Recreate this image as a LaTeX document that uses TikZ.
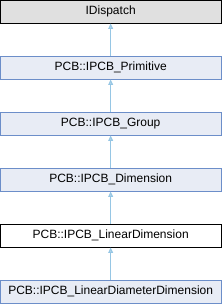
\documentclass[tikz,border=0pt]{standalone}
\usepackage{fontspec}
\setmainfont{Liberation Sans}
\definecolor{DOXYgrayfill}{RGB}{224, 224, 224}
\definecolor{DOXYbluefill}{RGB}{232, 236, 245}
\definecolor{DOXYblueline}{RGB}{108, 142, 201}
\definecolor{DOXYedge}{RGB}{150, 198, 228}
\usetikzlibrary{arrows.meta, positioning}

\begin{document}
\begin{tikzpicture}[
                box/.style={rectangle,
                draw=DOXYblueline,
                fill=DOXYbluefill,
                line width=0.75pt,
                minimum width=165.75pt,
                minimum height=17.25pt,
                inner sep=0pt,
                font=\fontsize{9}{11}\selectfont,
                align=center},
                arr/.style={-{Triangle[length=4pt, width=3.6pt, fill=DOXYedge!70]},
                            DOXYedge, line width=0.75pt},
                node distance=24pt]
                \useasboundingbox (0,0) rectangle (166.5pt,-228pt);
                \node[box, fill=DOXYgrayfill, draw=black] (idisp)
                    at (83pt,-8.625pt) {IDispatch};
                \node[box, below=of idisp] (prim) {PCB::IPCB\_Primitive};
                \node[box, below=of prim] (group) {PCB::IPCB\_Group};
                \node[box, below=of group] (dim) {PCB::IPCB\_Dimension};
                \node[box, below=of dim, fill=white, draw=black] (lindim)
                    {PCB::IPCB\_LinearDimension};
                \node[box, below=of lindim] (lindiam)
                    {PCB::IPCB\_LinearDiameterDimension};
                \draw[arr] (prim)--(idisp);
                \draw[arr] (group)--(prim);
                \draw[arr] (dim)--(group);
                \draw[arr] (lindim)--(dim);
                \draw[arr] (lindiam)--(lindim);
            \end{tikzpicture}
\end{document}
